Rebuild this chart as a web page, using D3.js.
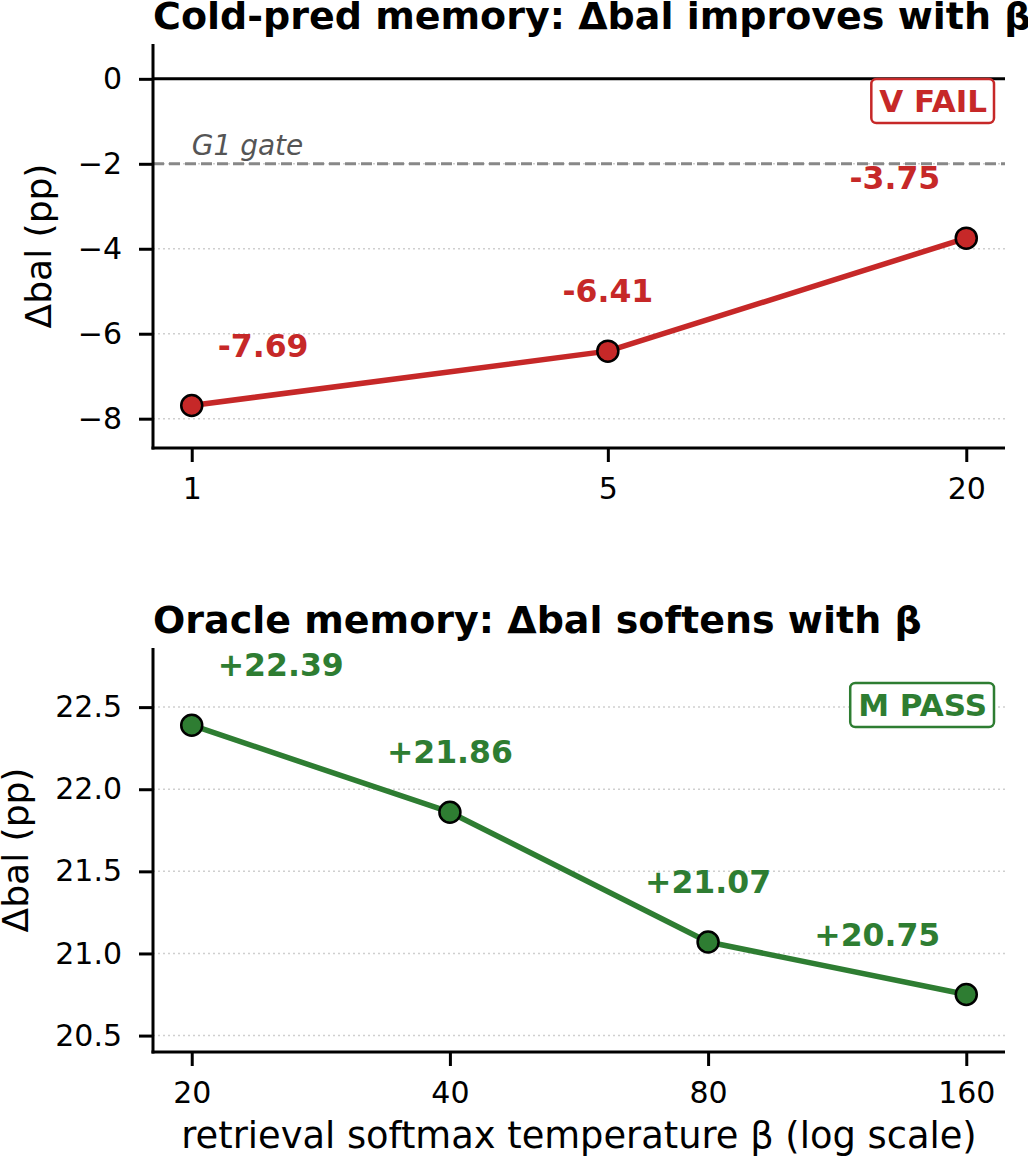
<!DOCTYPE html>
<html>
<head>
<meta charset="utf-8">
<script src="https://cdn.jsdelivr.net/npm/d3@7"></script>
<style>
  body { margin: 0; background: #fff; }
  svg { display: block; font-family: "DejaVu Sans", sans-serif; }
</style>
</head>
<body>
<div id="chart-area"></div>
<script>
// Data
const coldBeta = [1, 5, 20];
const coldDelta = [-7.69, -6.41, -3.75];
const coldYTicks = [0, -2, -4, -6, -8];
const coldYLim = [-8.69, 0.82];
const gateValue = -2;

const oracleBeta = [20, 40, 80, 160];
const oracleDelta = [22.39, 21.86, 21.07, 20.75];
const oracleYTicks = [20.5, 21.0, 21.5, 22.0, 22.5];
const oracleYLim = [20.4, 22.86];

const RED = "#c62828";
const GREEN = "#2e7d32";

const width = 1028,
  height = 1160;

const svg = d3
  .select("#chart-area")
  .append("svg")
  .attr("width", width)
  .attr("height", height);

const fmtTick = d => (d < 0 ? "\u2212" + Math.abs(d) : String(d));

function panel(opts) {
  const left = 153,
    right = 1005,
    top = opts.top,
    bottom = opts.top + 404;

  // log x scale with matplotlib-like 5% margins
  const lo = Math.log10(d3.min(opts.x)),
    hi = Math.log10(d3.max(opts.x)),
    pad = (hi - lo) * 0.05;
  const xScale = d3
    .scaleLog()
    .domain([Math.pow(10, lo - pad), Math.pow(10, hi + pad)])
    .range([left, right]);
  const yScale = d3.scaleLinear().domain(opts.ylim).range([bottom, top]);

  const g = svg.append("g");

  // dotted grid
  g.selectAll(".grid")
    .data(opts.yTicks)
    .enter()
    .append("line")
    .attr("x1", left)
    .attr("x2", right)
    .attr("y1", d => yScale(d))
    .attr("y2", d => yScale(d))
    .attr("stroke", "#cfcfcf")
    .attr("stroke-width", 1.5)
    .attr("stroke-dasharray", "2,3");

  if (opts.extra) opts.extra(g, xScale, yScale, left, right);

  // series line
  const pts = opts.x.map((x, i) => ({ x: x, y: opts.y[i] }));
  g.append("path")
    .datum(pts)
    .attr("fill", "none")
    .attr("stroke", opts.color)
    .attr("stroke-width", 5.5)
    .attr("stroke-linejoin", "round")
    .attr("d", d3.line().x(d => xScale(d.x)).y(d => yScale(d.y)));

  g.selectAll(".dot")
    .data(pts)
    .enter()
    .append("circle")
    .attr("cx", d => xScale(d.x))
    .attr("cy", d => yScale(d.y))
    .attr("r", 10.5)
    .attr("fill", opts.color)
    .attr("stroke", "#000")
    .attr("stroke-width", 2.5);

  // value labels
  const n = pts.length;
  g.selectAll(".val")
    .data(pts)
    .enter()
    .append("text")
    .attr("x", (d, i) => xScale(d.x) + (i === 0 ? 26 : i === n - 1 ? -26 : 0))
    .attr("y", d => yScale(d.y) - 49)
    .attr("text-anchor", (d, i) => (i === 0 ? "start" : i === n - 1 ? "end" : "middle"))
    .attr("font-size", "31.5px")
    .attr("font-weight", "bold")
    .attr("fill", opts.color)
    .text(opts.fmt);

  // axes
  const xAxis = g
    .append("g")
    .attr("transform", `translate(0,${bottom})`)
    .call(
      d3.axisBottom(xScale)
        .tickValues(opts.x)
        .tickFormat(d => String(d))
        .tickSizeInner(14)
        .tickSizeOuter(0)
        .tickPadding(16)
    );
  const yAxis = g
    .append("g")
    .attr("transform", `translate(${left},0)`)
    .call(
      d3.axisLeft(yScale)
        .tickValues(opts.yTicks)
        .tickFormat(opts.yFmt)
        .tickSizeInner(14)
        .tickSizeOuter(0)
        .tickPadding(17)
    );
  [xAxis, yAxis].forEach(a => {
    a.select(".domain").attr("stroke", "#000").attr("stroke-width", 3);
    a.selectAll(".tick line").attr("stroke", "#000").attr("stroke-width", 3);
    a.selectAll("text")
      .attr("font-size", "30px")
      .attr("fill", "#000")
      .attr("font-family", "DejaVu Sans, sans-serif");
  });
  // extend spines to the corner
  xAxis.select(".domain").attr("d", `M${left - 1.5},0H${right}`);
  yAxis.select(".domain").attr("d", `M0,${top}V${bottom + 1.5}`);

  // y label, placed left of the tick labels
  const tickBox = yAxis.node().getBBox();
  g.append("text")
    .attr("transform", `translate(${left + tickBox.x - 27},${(top + bottom) / 2}) rotate(-90)`)
    .attr("text-anchor", "middle")
    .attr("font-size", "36px")
    .text("\u0394bal (pp)");

  // title
  g.append("text")
    .attr("x", left)
    .attr("y", top - 15)
    .attr("font-size", "38px")
    .attr("font-weight", "bold")
    .text(opts.title);

  // badge
  const badge = g.append("g");
  const bt = badge
    .append("text")
    .attr("x", right - 18)
    .attr("y", top + 68)
    .attr("text-anchor", "end")
    .attr("font-size", "31px")
    .attr("font-weight", "bold")
    .attr("fill", opts.color)
    .text(opts.badge);
  const bb = bt.node().getBBox();
  badge
    .insert("rect", "text")
    .attr("x", bb.x - 8)
    .attr("y", top + 35)
    .attr("width", bb.width + 15)
    .attr("height", 44)
    .attr("rx", 5)
    .attr("fill", "#fff")
    .attr("stroke", opts.color)
    .attr("stroke-width", 2.5);

  return { g, xScale, yScale, left, right, bottom };
}

// Top: cold-pred memory
panel({
  top: 44,
  x: coldBeta,
  y: coldDelta,
  ylim: coldYLim,
  yTicks: coldYTicks,
  yFmt: fmtTick,
  color: RED,
  fmt: d => d.y.toFixed(2),
  title: "Cold-pred memory: \u0394bal improves with \u03b2",
  badge: "V FAIL",
  extra: (g, x, y, left, right) => {
    g.append("line")
      .attr("x1", left)
      .attr("x2", right)
      .attr("y1", y(gateValue))
      .attr("y2", y(gateValue))
      .attr("stroke", "#888")
      .attr("stroke-width", 3)
      .attr("stroke-dasharray", "11,5");
    g.append("text")
      .attr("x", x(coldBeta[0]))
      .attr("y", y(gateValue) - 9)
      .attr("font-size", "28px")
      .attr("font-style", "italic")
      .attr("fill", "#555")
      .text("G1 gate");
    g.append("line")
      .attr("x1", left)
      .attr("x2", right)
      .attr("y1", y(0))
      .attr("y2", y(0))
      .attr("stroke", "#000")
      .attr("stroke-width", 3);
  }
});

// Bottom: oracle memory
const bottomPanel = panel({
  top: 648,
  x: oracleBeta,
  y: oracleDelta,
  ylim: oracleYLim,
  yTicks: oracleYTicks,
  yFmt: d => d.toFixed(1),
  color: GREEN,
  fmt: d => "+" + d.y.toFixed(2),
  title: "Oracle memory: \u0394bal softens with \u03b2",
  badge: "M PASS"
});

// X label
svg
  .append("text")
  .attr("x", (bottomPanel.left + bottomPanel.right) / 2)
  .attr("y", 1148)
  .attr("text-anchor", "middle")
  .attr("font-size", "36.8px")
  .text("retrieval softmax temperature \u03b2 (log scale)");
</script>
</body>
</html>
